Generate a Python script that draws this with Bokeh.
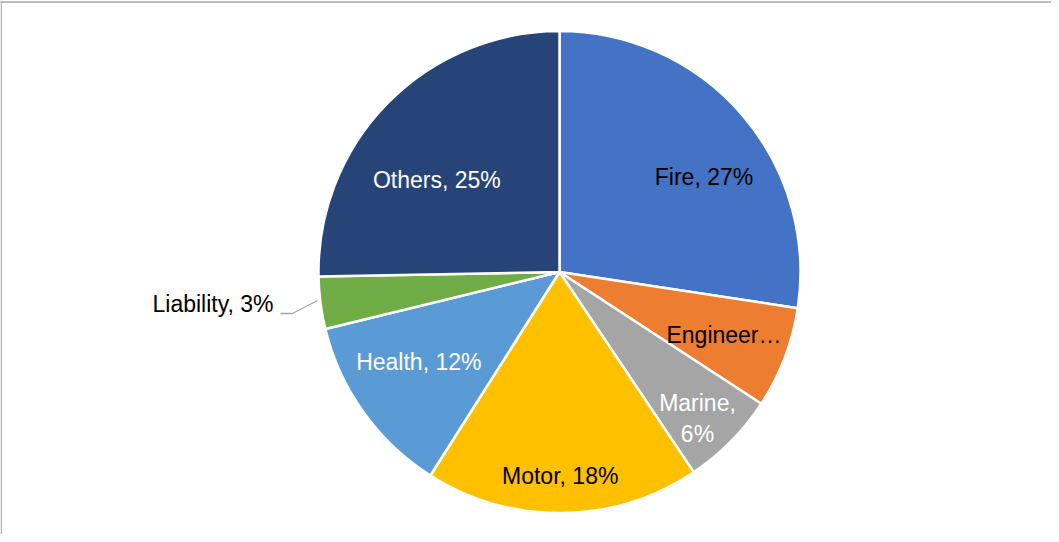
import math
from bokeh.plotting import figure
from bokeh.models import Range1d, Span, ColumnDataSource
from bokeh.core.properties import value
from bokeh.embed import file_html
from bokeh.resources import INLINE

# ---- data ----
categories = ["Fire", "Engineering", "Marine", "Motor", "Health", "Liability", "Others"]
shares = [27.4, 6.8, 6.4, 18.4, 12.2, 3.5, 25.3]
labels = ["Fire, 27%", "Engineer\u2026", "Marine,\n6%", "Motor, 18%", "Health, 12%", "Liability, 3%", "Others, 25%"]
colors = ["#4472C4", "#ED7D31", "#A5A5A5", "#FFC000", "#5B9BD5", "#70AD47", "#264478"]
label_colors = ["black", "black", "white", "black", "white", "black", "white"]

# label offsets from pie centre (pixels, x right / y up) -- layout only
label_dx = [144.5, 164.5, 138, 0.7, -140.7, -286, -122.7]
label_dy = [95.5, -62.5, -146.5, -203.5, -89.5, -31.5, 92.5]
label_align = ["center", "center", "center", "center", "center", "right", "center"]

W, H = 1051, 534
p = figure(width=W, height=H, output_backend="svg", toolbar_location=None,
           x_range=Range1d(8, 8 + W), y_range=Range1d(8, 8 + H),
           min_border=0, outline_line_color=None)
p.axis.visible = False
p.grid.visible = False
p.background_fill_color = "white"
p.border_fill_color = "white"

# page coords -> data coords
def py(y):
    return 550 - y

cx, cy, R = 567.0, py(279.5), 241.0

total = sum(shares)
starts, ends = [], []
cum = 0.0
for s in shares:
    starts.append(math.pi / 2 - 2 * math.pi * cum / total)
    cum += s
    ends.append(math.pi / 2 - 2 * math.pi * cum / total)

src = ColumnDataSource(dict(cat=categories, start=starts, end=ends, color=colors))
p.wedge(x=cx, y=cy, radius=R, start_angle="start", end_angle="end", direction="clock",
        fill_color="color", line_color="white", line_width=2.5, source=src)

lsrc = ColumnDataSource(dict(
    x=[cx + d for d in label_dx], y=[cy + d for d in label_dy],
    text=labels, color=label_colors, align=label_align))
p.text(x="x", y="y", text="text", text_color="color", text_align="align",
       text_baseline="middle", text_font=value("Liberation Sans"),
       text_font_size="23px", text_line_height=1.17, source=lsrc)

# leader line for Liability
p.line(x=[288, 300, 325], y=[py(321), py(321), py(308)], line_color="#A6A6A6", line_width=1.3)

# chart frame (top and left edges)
p.add_layout(Span(location=py(9.5), dimension="width", line_color="#A6A6A6", line_width=1.3))
p.add_layout(Span(location=8.7, dimension="height", line_color="#A6A6A6", line_width=1.3))

open("out.html", "w").write(file_html(p, INLINE))
